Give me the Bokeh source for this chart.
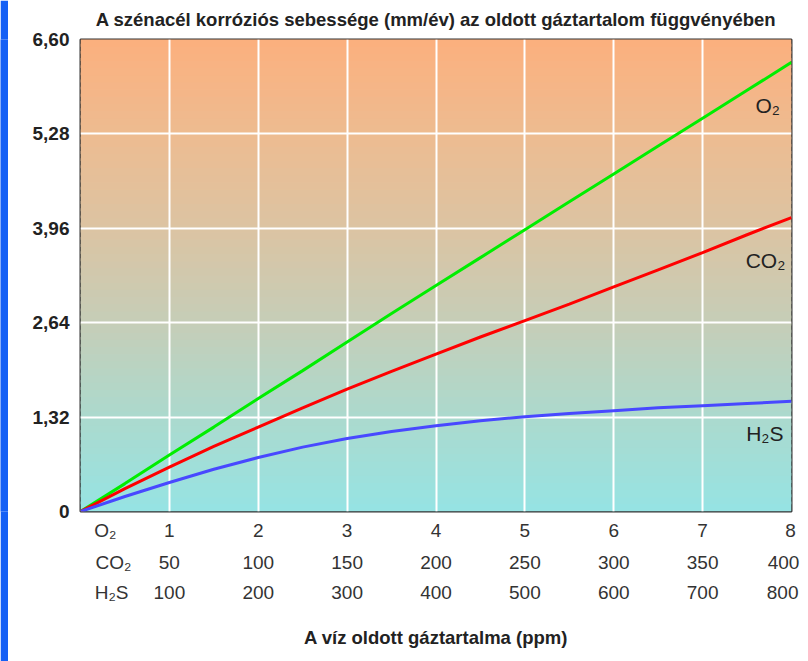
import numpy as np
from bokeh.plotting import figure
from bokeh.layouts import row
from bokeh.models import Range1d, LinearAxis, FixedTicker, Label, Grid
from bokeh.embed import file_html
from bokeh.resources import INLINE

# ---------------- data ----------------
title_text = "A szénacél korróziós sebessége (mm/év) az oldott gáztartalom függvényében"
x_title = "A víz oldott gáztartalma (ppm)"

y_ticks = [0.0, 1.32, 2.64, 3.96, 5.28, 6.60]
y_tick_labels = ["0", "1,32", "2,64", "3,96", "5,28", "6,60"]

gas_names = ["O\u2082", "CO\u2082", "H\u2082S"]
o2_scale = ["1", "2", "3", "4", "5", "6", "7", "8"]
co2_scale = ["50", "100", "150", "200", "250", "300", "350", "400"]
h2s_scale = ["100", "200", "300", "400", "500", "600", "700", "800"]

x = [0, 0.5, 1, 1.5, 2, 2.5, 3, 3.5, 4, 4.5, 5, 5.5, 6, 6.5, 7, 7.5, 8]
o2_rate = [0, 0.39, 0.79, 1.18, 1.58, 1.97, 2.37, 2.77, 3.16, 3.55, 3.94,
           4.33, 4.72, 5.11, 5.50, 5.89, 6.28]
co2_rate = [0, 0.32, 0.62, 0.91, 1.18, 1.45, 1.71, 1.96, 2.20, 2.44, 2.67,
            2.90, 3.14, 3.38, 3.62, 3.87, 4.11]
h2s_rate = [0, 0.21, 0.405, 0.59, 0.755, 0.90, 1.02, 1.12, 1.20, 1.27, 1.325,
            1.37, 1.41, 1.45, 1.48, 1.51, 1.54]

# ---------------- figure ----------------
FONT = "Liberation Sans"

# thin blue strip at the left edge (decoration of the original slide)
strip = figure(width=8, height=661, output_backend="svg", toolbar_location=None,
               x_axis_type=None, y_axis_type=None, min_border=0)
strip.background_fill_color = "#1560f5"
strip.border_fill_color = "#1560f5"
strip.outline_line_color = None

p = figure(frame_width=711, frame_height=472, output_backend="svg",
           toolbar_location=None,
           x_range=Range1d(0, 8), y_range=Range1d(0, 6.6),
           x_axis_type=None, y_axis_type=None,
           min_border_left=72, min_border_right=17, min_border_top=39,
           min_border_bottom=150)
p.background_fill_color = "white"
p.border_fill_color = "white"
p.outline_line_color = "#333333"
p.outline_line_width = 2

p.title.text = title_text
p.title.align = "center"
p.title.vertical_align = "top"
p.title.text_font = FONT
p.title.text_font_size = "18.5px"
p.title.text_font_style = "bold"
p.title.text_color = "#222222"
p.title.standoff = 15

# gradient background (style only)
stops_v = [0.0, 1.32, 2.64, 3.96, 5.28, 6.60]
stops_c = np.array([(150, 228, 228), (172, 218, 206), (198, 206, 184),
                    (220, 196, 163), (238, 188, 145), (252, 176, 126)], float)
nb = 66
edges = np.linspace(0, 6.6, nb + 1)
mids = (edges[:-1] + edges[1:]) / 2
cols = []
for m in mids:
    r = np.interp(m, stops_v, stops_c[:, 0])
    g = np.interp(m, stops_v, stops_c[:, 1])
    b = np.interp(m, stops_v, stops_c[:, 2])
    cols.append("#%02x%02x%02x" % (int(r), int(g), int(b)))
p.quad(left=0, right=8, bottom=edges[:-1], top=edges[1:] + 0.04,
       fill_color=cols, line_color=None, level="image")

# grid
p.add_layout(Grid(dimension=0, ticker=FixedTicker(ticks=[1, 2, 3, 4, 5, 6, 7]),
                  grid_line_color="white", grid_line_width=2))
p.add_layout(Grid(dimension=1, ticker=FixedTicker(ticks=y_ticks[1:-1]),
                  grid_line_color="white", grid_line_width=2))

# y axis
yax = LinearAxis(ticker=FixedTicker(ticks=y_ticks),
                 major_label_overrides={v: s for v, s in zip(y_ticks, y_tick_labels)})
yax.axis_line_color = None
yax.major_tick_line_color = None
yax.minor_tick_line_color = None
yax.major_tick_out = 0
yax.major_label_standoff = 11
yax.major_label_text_font = FONT
yax.major_label_text_font_size = "19px"
yax.major_label_text_font_style = "bold"
yax.major_label_text_color = "#222222"
p.add_layout(yax, "left")

# three rows of x labels, each led by the gas name
def make_xaxis(name, name_pos, labels, last_pos, standoff):
    ticks = [name_pos, 1, 2, 3, 4, 5, 6, 7, last_pos]
    texts = [name] + labels
    ax = LinearAxis(ticker=FixedTicker(ticks=ticks),
                    major_label_overrides={t: s for t, s in zip(ticks, texts)})
    ax.axis_line_color = None
    ax.major_tick_line_color = None
    ax.minor_tick_line_color = None
    ax.major_tick_out = 0
    ax.major_tick_in = 0
    ax.major_label_standoff = standoff
    ax.major_label_text_font = FONT
    ax.major_label_text_font_size = "19px"
    ax.major_label_text_color = "#333333"
    return ax

ax1 = make_xaxis(gas_names[0], 0.28, o2_scale, 7.99, 8)
ax2 = make_xaxis(gas_names[1], 0.37, co2_scale, 7.91, 8)
ax3 = make_xaxis(gas_names[2], 0.35, h2s_scale, 7.90, 6)
ax3.axis_label = x_title
ax3.axis_label_text_font = FONT
ax3.axis_label_text_font_size = "18.5px"
ax3.axis_label_text_font_style = "bold"
ax3.axis_label_text_color = "#222222"
ax3.axis_label_standoff = 21
p.add_layout(ax1, "below")
p.add_layout(ax2, "below")
p.add_layout(ax3, "below")

# curves
p.line(x, o2_rate, line_color="#00ee00", line_width=3)
p.line(x, co2_rate, line_color="#ff0000", line_width=3)
p.line(x, h2s_rate, line_color="#4848ff", line_width=3)

# curve labels
for name, xx, yy in zip(gas_names, [7.87, 7.93, 7.91], [5.68, 3.51, 1.09]):
    p.add_layout(Label(x=xx, y=yy, text=name, text_align="right",
                       text_baseline="middle", text_font=FONT,
                       text_font_size="21px", text_color="#222222"))

layout = row(strip, p, spacing=0)
open("out.html", "w").write(file_html(layout, INLINE))
